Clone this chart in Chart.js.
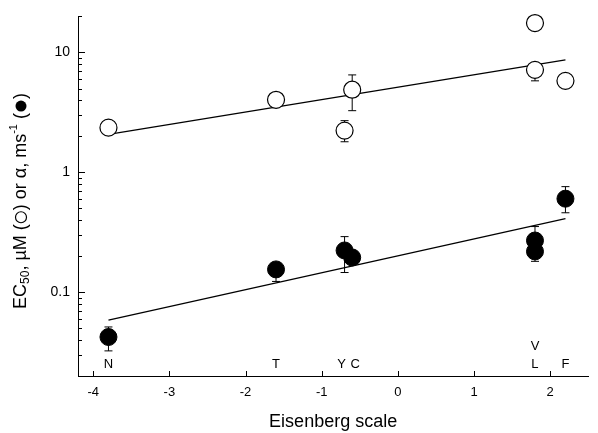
<!DOCTYPE html>
<html>
<head>
<meta charset="utf-8">
<script src="https://cdn.jsdelivr.net/npm/chart.js@4"></script>
<style>
  body { margin: 0; background: #fff; }
  #wrap { width: 598px; height: 433px; }
</style>
</head>
<body>
<div id="wrap"><canvas id="c" width="598" height="433"></canvas></div>
<script>
// residues and their Eisenberg hydrophobicity
var residues = ["N", "T", "Y", "C", "V", "L", "F"];
var eisenberg = [-3.8, -1.6, -0.7, -0.6, 1.8, 1.8, 2.2];
// which residue labels sit on the upper row
var upperRow = ["V"];

// EC50 (open circles), uM
var ec50 = [2.36, 4.03, 2.23, 4.89, 17.6, 7.16, 5.8];
var ec50Low = [null, null, 1.8, 3.27, null, 5.8, null];
var ec50High = [null, null, 2.7, 6.5, null, null, null];

// alpha (filled circles), ms-1
var alpha = [0.0423, 0.155, 0.223, 0.195, 0.27, 0.219, 0.603];
var alphaLow = [0.0324, 0.123, 0.146, null, null, 0.181, 0.46];
var alphaHigh = [0.0513, null, 0.291, null, 0.353, null, 0.76];

// regression lines (ends)
var fitX = [-3.8, 2.2];
var ec50Fit = [2.07, 8.67];
var alphaFit = [0.0586, 0.411];

var xTicks = [-4, -3, -2, -1, 0, 1, 2];
var yTicks = [0.1, 1, 10];

var FONT = "'Liberation Sans', Arial, sans-serif";

function pts(xs, ys) {
    return xs.map(function (x, i) { return { x: x, y: ys[i] }; });
}

var extras = {
    id: "extras",
    beforeDatasetsDraw: function (chart) {
        var ctx = chart.ctx, xs = chart.scales.x, ys = chart.scales.y;
        ctx.save();
        ctx.strokeStyle = "#000";
        ctx.lineWidth = 1;
        function bars(lo, hi, mid) {
            eisenberg.forEach(function (x, i) {
                var px = xs.getPixelForValue(x);
                [lo[i], hi[i]].forEach(function (v) {
                    if (v == null) return;
                    var py = ys.getPixelForValue(v), pm = ys.getPixelForValue(mid[i]);
                    ctx.beginPath();
                    ctx.moveTo(px, pm); ctx.lineTo(px, py);
                    ctx.moveTo(px - 4, py); ctx.lineTo(px + 4, py);
                    ctx.stroke();
                });
            });
        }
        bars(ec50Low, ec50High, ec50);
        bars(alphaLow, alphaHigh, alpha);
        ctx.restore();
    },
    afterDraw: function (chart) {
        var ctx = chart.ctx, xs = chart.scales.x, ys = chart.scales.y;
        var area = chart.chartArea;
        ctx.save();
        ctx.strokeStyle = "#000";
        ctx.lineWidth = 1;
        // inward ticks on y
        for (var d = -2; d <= 1; d++) {
            for (var m = 1; m <= 9; m++) {
                var v = m * Math.pow(10, d);
                if (v < ys.min - 1e-9 || v > ys.max + 1e-9) continue;
                var py = Math.round(ys.getPixelForValue(v)) + 0.5;
                ctx.beginPath();
                ctx.moveTo(area.left, py);
                ctx.lineTo(area.left + (m === 1 ? 7 : 4), py);
                ctx.stroke();
            }
        }
        // inward ticks on x
        xTicks.forEach(function (t) {
            var px = Math.round(xs.getPixelForValue(t)) + 0.5;
            ctx.beginPath();
            ctx.moveTo(px, area.bottom);
            ctx.lineTo(px, area.bottom - 5);
            ctx.stroke();
        });

        // residue letters along the bottom
        ctx.fillStyle = "#000";
        ctx.font = "13px " + FONT;
        ctx.textAlign = "center";
        ctx.textBaseline = "middle";
        residues.forEach(function (r, i) {
            var px = xs.getPixelForValue(eisenberg[i]);
            if (r === "Y") px -= 3;
            if (r === "C") px += 3;
            ctx.fillText(r, px, upperRow.indexOf(r) >= 0 ? 346 : 364);
        });
        ctx.restore();

        // y-axis title with sub/superscripts and marker symbols
        ctx.save();
        ctx.translate(21, 201);
        ctx.rotate(-Math.PI / 2);
        ctx.fillStyle = "#000";
        ctx.strokeStyle = "#000";
        ctx.textBaseline = "middle";
        var segs = [
            ["EC", 18, 0], ["50", 12, 5], [", \u00b5M (", 18, 0], ["open"],
            [") or \u03b1, ms", 18, 0], ["-1", 11, -7], [" (", 18, 0], ["filled"], [")", 18, 0]
        ];
        function segWidth(s) {
            if (s.length === 1) return 14;
            ctx.font = s[1] + "px " + FONT;
            return ctx.measureText(s[0]).width;
        }
        var total = 0;
        segs.forEach(function (s) { total += segWidth(s); });
        var x = -total / 2;
        segs.forEach(function (s) {
            var w = segWidth(s);
            if (s.length === 1) {
                ctx.beginPath();
                ctx.arc(x + w / 2, 0, 5.5, 0, Math.PI * 2);
                ctx.lineWidth = 1.2;
                if (s[0] === "filled") ctx.fill(); else ctx.stroke();
            } else {
                ctx.font = s[1] + "px " + FONT;
                ctx.textAlign = "left";
                ctx.fillText(s[0], x, s[2]);
            }
            x += w;
        });
        ctx.restore();
    }
};

new Chart(document.getElementById("c"), {
    type: "scatter",
    data: {
        datasets: [
            {
                label: "EC50",
                data: pts(eisenberg, ec50),
                pointRadius: 8.5,
                pointBackgroundColor: "#fff",
                pointBorderColor: "#000",
                pointBorderWidth: 1.2,
                clip: false,
                order: 1,
            },
            {
                label: "alpha",
                data: pts(eisenberg, alpha),
                pointRadius: 8.5,
                pointBackgroundColor: "#000",
                pointBorderColor: "#000",
                pointBorderWidth: 1,
                clip: false,
                order: 1,
            },
            {
                label: "EC50 fit",
                data: pts(fitX, ec50Fit),
                showLine: true,
                pointRadius: 0,
                borderColor: "#000",
                borderWidth: 1.3,
                order: 2,
            },
            {
                label: "alpha fit",
                data: pts(fitX, alphaFit),
                showLine: true,
                pointRadius: 0,
                borderColor: "#000",
                borderWidth: 1.3,
                order: 2,
            },
        ],
    },
    options: {
        responsive: false,
        animation: false,
        layout: { padding: { top: 13, left: 0, right: 0, bottom: 0 } },
        plugins: {
            legend: { display: false },
            tooltip: { enabled: false },
        },
        scales: {
            x: {
                type: "linear",
                min: -4.2,
                max: 2.5,
                afterBuildTicks: function (s) { s.ticks = xTicks.map(function (v) { return { value: v }; }); },
                afterFit: function (s) { s.height = 57; },
                grid: { display: false, drawTicks: false },
                border: { display: true, color: "#000", width: 1 },
                ticks: {
                    padding: 9,
                    color: "#000",
                    font: { family: FONT, size: 13 },
                    callback: function (v) { return String(v); },
                },
                title: {
                    display: true,
                    text: "Eisenberg scale",
                    color: "#000",
                    font: { family: FONT, size: 18 },
                    padding: { top: 6, bottom: 0 },
                },
            },
            y: {
                type: "logarithmic",
                min: 0.02,
                max: 20,
                afterBuildTicks: function (s) { s.ticks = yTicks.map(function (v) { return { value: v }; }); },
                afterFit: function (s) { s.width = 78; },
                grid: { display: false, drawTicks: false },
                border: { display: true, color: "#000", width: 1 },
                ticks: {
                    padding: 8,
                    color: "#000",
                    font: { family: FONT, size: 14 },
                    callback: function (v) { return String(v); },
                },
            },
        },
    },
    plugins: [extras],
});
</script>
</body>
</html>
